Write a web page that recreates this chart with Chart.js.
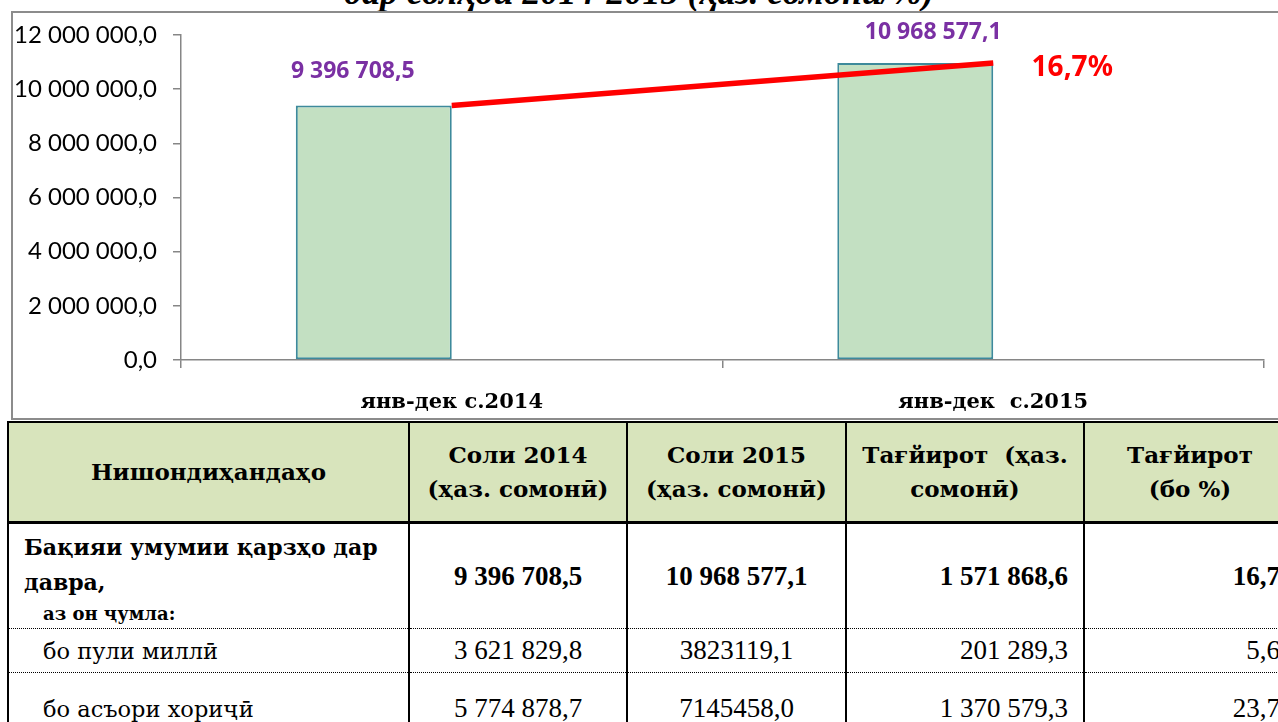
<!DOCTYPE html>
<html>
<head>
<meta charset="utf-8">
<script src="https://cdn.jsdelivr.net/npm/chart.js@4.4.1/dist/chart.umd.min.js"></script>
<style>
  html, body { margin: 0; padding: 0; width: 1278px; height: 722px; overflow: hidden; background: #fff; }
  #title { position: absolute; left: 0; top: -29px; width: 1278px; text-align: center; line-height: 36px;
           font: italic bold 36px "Liberation Serif", serif; color: #000; white-space: nowrap; }
  #box { position: absolute; left: 11px; top: 11px; width: 1300px; height: 405px;
         border: 2px solid #8c8c8c; border-right: none; background: #fff; }
  #wrap { position: absolute; left: 0; top: 0; width: 1278px; height: 420px; }
  table { position: absolute; left: 7px; top: 421px; width: 1288px; border-collapse: collapse; table-layout: fixed;
          font-family: "Liberation Serif", serif; color: #000; }
  td, th { border-left: 2px solid #000; border-right: 2px solid #000; padding: 0; }
  th { background: #d8e4bc; font: bold 23px "DejaVu Serif", serif; line-height: 34px;
       border-top: 2px solid #000; border-bottom: 3px solid #000; height: 98px; text-align: center; }
  td { border-bottom: 1px dotted #000; }
  td.name { font: 22.5px "DejaVu Serif", serif; padding-left: 34px; text-align: left; }
  td.main { font: bold 22px "DejaVu Serif", serif; padding-left: 15px; padding-top: 6px; vertical-align: top; line-height: 35px; }
  td.main .sub { font-size: 18px; padding-left: 19px; line-height: 28px; }
  td.num { font-size: 27px; text-align: center; }
  td.rnum { font-size: 27px; text-align: right; padding-right: 15px; }
  tr.bold td.num, tr.bold td.rnum { font-weight: bold; }
</style>
</head>
<body>
<div id="title">дар солҳои 2014-2015 (ҳаз. сомонӣ/%)</div>
<div id="box"></div>
<div id="wrap"><canvas id="debtChart" width="1278" height="420"></canvas></div>
<table id="debtTable"></table>

<script>
// chart data
const categories = ['янв-дек с.2014', 'янв-дек  с.2015'];
const totalDebt = [9396708.5, 10968577.1];
const growthLabel = '16,7%';
const yTicksMax = 12000000;
const yTicksStep = 2000000;

// table data
const tableHeaders = ['Нишондиҳандаҳо', 'Соли 2014<br>(ҳаз. сомонӣ)', 'Соли 2015<br>(ҳаз. сомонӣ)', 'Тағйирот&nbsp; (ҳаз.<br>сомонӣ)', 'Тағйирот<br>(бо %)'];
const rowNames = [['Бақияи умумии қарзҳо дар', 'давра,', 'аз он ҷумла:'], 'бо пули миллӣ', 'бо асъори хориҷӣ'];
const col2014 = ['9 396 708,5', '3 621 829,8', '5 774 878,7'];
const col2015 = ['10 968 577,1', '3823119,1', '7145458,0'];
const changeAbs = ['1 571 868,6', '201 289,3', '1 370 579,3'];
const changePct = ['16,7', '5,6', '23,7'];

function fmtNum(v) {
  const parts = Number(v).toFixed(1).split('.');
  return parts[0].replace(/\B(?=(\d{3})+(?!\d))/g, ' ') + ',' + parts[1];
}

const valueLabels = {
  id: 'valueLabels',
  afterDatasetsDraw(chart, args, opts) {
    const ctx = chart.ctx;
    ctx.save();
    ctx.textAlign = 'center';
    ctx.textBaseline = 'middle';
    ctx.font = 'bold 23px "Noto Sans"';
    ctx.fillStyle = '#7a30a3';
    chart.getDatasetMeta(0).data.forEach((bar, i) => {
      const off = opts.offsets[i];
      ctx.fillText(fmtNum(totalDebt[i]), bar.x + off[0], bar.y + off[1]);
    });
    const pts = chart.getDatasetMeta(2).data;
    const last = pts[pts.length - 1];
    ctx.font = 'bold 28px "Noto Sans"';
    ctx.fillStyle = '#ff0000';
    ctx.fillText(growthLabel, last.x + 79, last.y + 5);
    ctx.restore();
  }
};

const axisGray = '#868686';

new Chart(document.getElementById('debtChart'), {
  type: 'bar',
  data: {
    labels: categories,
    datasets: [
      {
        data: totalDebt,
        backgroundColor: '#c3e0c2',
        borderColor: '#3d8a9b',
        borderWidth: 2,
        borderSkipped: false,
        order: 1,
      },
      {
        data: totalDebt.map(() => null),
        order: 1,
      },
      {
        type: 'line',
        data: totalDebt,
        borderColor: '#ff0000',
        borderWidth: 5.5,
        pointRadius: 0,
        order: 0,
      },
    ],
  },
  options: {
    responsive: false,
    animation: false,
    devicePixelRatio: 1,
    categoryPercentage: 0.576,
    barPercentage: 1.0,
    layout: { padding: { top: 35, right: 14, left: 0, bottom: 0 } },
    plugins: {
      legend: { display: false },
      tooltip: { enabled: false },
      valueLabels: { offsets: [[-21, -34], [18, -30]] },
    },
    scales: {
      x: {
        grid: { drawOnChartArea: false, tickLength: 8, color: axisGray, lineWidth: 1.5, offset: true },
        border: { color: axisGray, width: 1.5 },
        ticks: { font: { family: 'DejaVu Serif', weight: 'bold', size: 21 }, color: '#000', padding: 22 },
        afterFit(s) { s.height = 60; },
      },
      y: {
        min: 0,
        max: yTicksMax,
        grid: { drawOnChartArea: false, tickLength: 8, color: axisGray, lineWidth: 1.5 },
        border: { color: axisGray, width: 1.5 },
        ticks: { stepSize: yTicksStep, callback: v => fmtNum(v), font: { family: 'Lato', size: 24 }, color: '#000', padding: 16 },
        afterFit(s) { s.width = 181; },
      },
    },
  },
  plugins: [valueLabels],
});

// build the table from the arrays
function buildTable() {
  const widths = [401, 218, 219, 238, 212];
  const heights = [104, 44, 72];
  let html = '<colgroup>' + widths.map(w => `<col style="width:${w}px">`).join('') + '</colgroup>';
  html += '<tr>' + tableHeaders.map(h => `<th>${h}</th>`).join('') + '</tr>';
  rowNames.forEach((name, i) => {
    const bold = Array.isArray(name);
    const nameCell = bold
      ? `<td class="main">${name[0]}<br>${name[1]}<div class="sub">${name[2]}</div></td>`
      : `<td class="name">${name}</td>`;
    html += `<tr class="${bold ? 'bold' : ''}" style="height:${heights[i]}px">${nameCell}` +
      `<td class="num">${col2014[i]}</td><td class="num">${col2015[i]}</td>` +
      `<td class="rnum">${changeAbs[i]}</td><td class="rnum">${changePct[i]}</td></tr>`;
  });
  document.getElementById('debtTable').innerHTML = html;
}
buildTable();
</script>
</body>
</html>
